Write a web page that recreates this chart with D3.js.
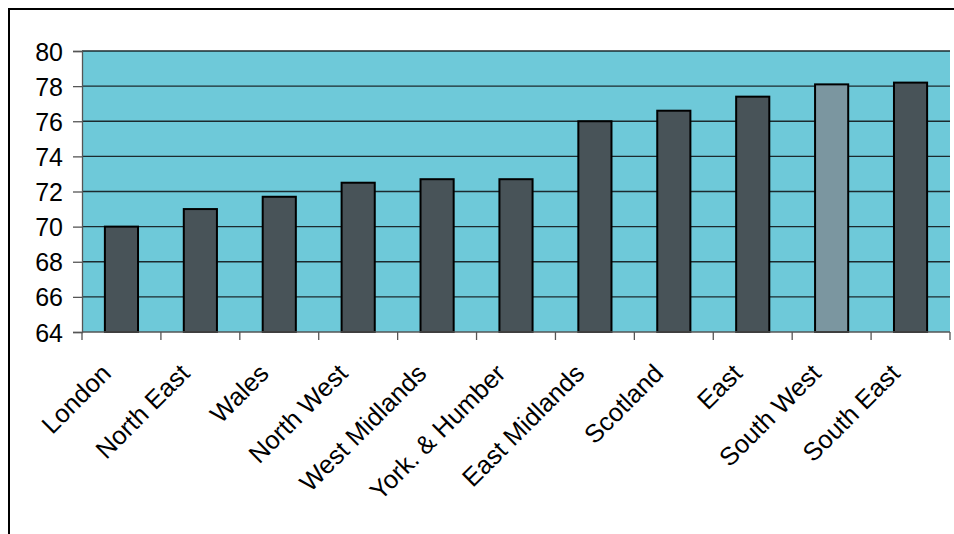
<!DOCTYPE html>
<html>
<head>
<meta charset="utf-8">
<script src="https://cdn.jsdelivr.net/npm/d3@7"></script>
<style>
	body { margin: 0; background: #fff; }
	svg { display: block; }
	text { font-family: "Liberation Sans", Arial, sans-serif; fill: #000; }
</style>
</head>
<body>
<svg width="954" height="534"></svg>
<script>
// regions, sorted by value
var regions = ["London", "North East", "Wales", "North West", "West Midlands",
	"York. & Humber", "East Midlands", "Scotland", "East", "South West", "South East"];
var values = [70, 71, 71.7, 72.5, 72.7, 72.7, 76, 76.6, 77.4, 78.1, 78.2];
var highlighted = ["South West"];
var yTicks = [64, 66, 68, 70, 72, 74, 76, 78, 80];

var svg = d3.select("svg");
var plot = {left: 82, top: 51, right: 950, bottom: 332};

// outer frame
svg.append("rect")
	.attr("x", 9).attr("y", 9)
	.attr("width", 960).attr("height", 600)
	.attr("fill", "none")
	.attr("stroke", "#000")
	.attr("stroke-width", 2);

var x = d3.scaleBand()
	.domain(regions)
	.range([plot.left, plot.right])
	.paddingInner(0.58)
	.paddingOuter(0.29);

var y = d3.scaleLinear()
	.domain([64, 80])
	.range([plot.bottom, plot.top]);

// plot background
svg.append("rect")
	.attr("x", plot.left).attr("y", plot.top)
	.attr("width", plot.right - plot.left)
	.attr("height", plot.bottom - plot.top)
	.attr("fill", "#6ec9d9");

// gridlines
svg.append("g")
	.selectAll("line")
	.data(yTicks.slice(1))
	.join("line")
	.attr("x1", plot.left).attr("x2", plot.right)
	.attr("y1", d => y(d)).attr("y2", d => y(d))
	.attr("stroke", "#1c2a2e")
	.attr("stroke-width", 1.3);

// bars
svg.append("g")
	.selectAll("rect")
	.data(regions)
	.join("rect")
	.attr("x", d => x(d))
	.attr("y", (d, i) => y(values[i]))
	.attr("width", x.bandwidth())
	.attr("height", (d, i) => y(64) - y(values[i]))
	.attr("fill", d => highlighted.includes(d) ? "#7b96a0" : "#485358")
	.attr("stroke", "#000")
	.attr("stroke-width", 2);

// y axis
var yAxis = svg.append("g")
	.attr("transform", "translate(" + plot.left + ",0)")
	.call(d3.axisLeft(y).tickValues(yTicks).tickSize(9).tickPadding(10));
yAxis.selectAll("text").style("font-size", "25px").attr("dy", "0.36em");
yAxis.selectAll("line, path").attr("stroke", "#555").attr("stroke-width", 1.3);

// x axis: ticks sit between categories
var bounds = d3.range(regions.length + 1).map(i => plot.left + i * (plot.right - plot.left) / regions.length);
var xAxis = svg.append("g");
xAxis.append("line")
	.attr("x1", plot.left).attr("x2", plot.right)
	.attr("y1", plot.bottom).attr("y2", plot.bottom)
	.attr("stroke", "#555").attr("stroke-width", 1.3);
xAxis.selectAll("line.tick")
	.data(bounds)
	.join("line")
	.attr("class", "tick")
	.attr("x1", d => d).attr("x2", d => d)
	.attr("y1", plot.bottom).attr("y2", plot.bottom + 8)
	.attr("stroke", "#555").attr("stroke-width", 1.3);

xAxis.selectAll("text")
	.data(regions)
	.join("text")
	.attr("transform", d => "translate(" + (x(d) + x.bandwidth() / 2 - 9) + "," + (plot.bottom + 43) + ") rotate(-45)")
	.attr("text-anchor", "end")
	.style("font-size", "25.5px")
	.text(d => d);
</script>
</body>
</html>
